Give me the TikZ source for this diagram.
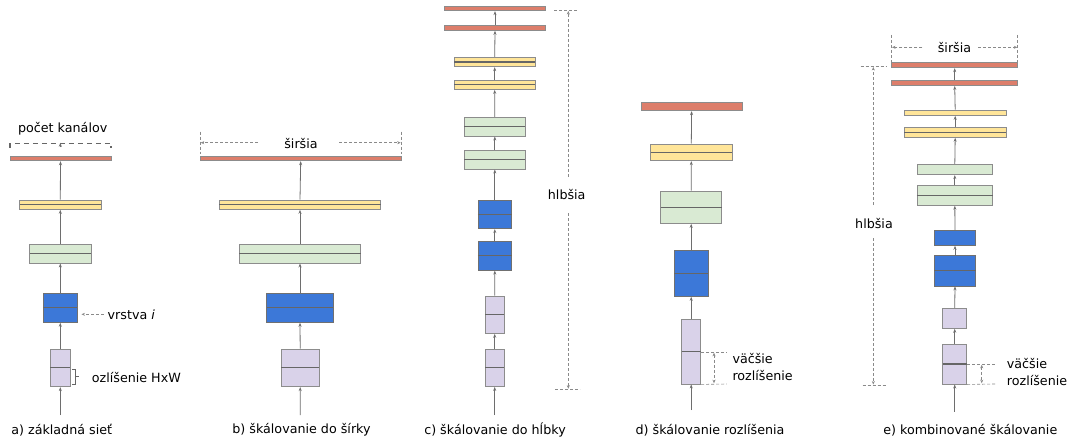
\documentclass[tikz,border=0pt]{standalone}
\usepackage{fontspec}
\setmainfont{DejaVu Sans}
\usetikzlibrary{arrows.meta}
\definecolor{redf}{HTML}{DD7E6B}
\definecolor{yelf}{HTML}{FFE599}
\definecolor{grnf}{HTML}{D9EAD3}
\definecolor{bluf}{HTML}{3C78D8}
\definecolor{purf}{HTML}{D9D2E9}
\definecolor{edgec}{HTML}{8C8C8C}
\definecolor{midc}{HTML}{666666}
\definecolor{connc}{HTML}{6E6E6E}
\definecolor{dimc}{HTML}{8A8A8A}
\tikzset{
  txt/.style={font=\fontsize{12.7}{17}\selectfont, inner sep=0pt, text=black},
  lay/.style={draw=edgec, line width=0.9pt, inner sep=0pt, rectangle},
  redl/.style={lay, fill=redf},
  yell/.style={lay, fill=yelf},
  grnl/.style={lay, fill=grnf},
  blul/.style={lay, fill=bluf, draw=edgec!80!black},
  purl/.style={lay, fill=purf},
  mid/.style={draw=midc, line width=1.1pt},
  conn/.style={draw=connc, line width=0.8pt, -{Stealth[length=4pt,width=3pt]}},
  dim/.style={draw=dimc, line width=0.6pt, dash pattern=on 3pt off 2pt},
  dimarr/.style={dim, -{Stealth[length=3.5pt,width=3pt]}},
  dimdbl/.style={dim, {Stealth[length=3.5pt,width=3pt]}-{Stealth[length=3.5pt,width=3pt]}},
}
\begin{document}
\begin{tikzpicture}[x=1pt,y=-1pt]
\useasboundingbox[fill=white] (0,0) rectangle (1070,441);

% ---------- panel a ----------
\node[redl, minimum width=101pt, minimum height=4.7pt] (ra) at (60.5,158.4) {};
\node[yell, minimum width=81.4pt, minimum height=9.3pt] (ya) at (60.3,204.7) {};
\node[grnl, minimum width=61.4pt, minimum height=19pt] (ga) at (60.3,253.5) {};
\node[blul, minimum width=33.7pt, minimum height=29pt] (ba) at (60.3,307.8) {};
\node[purl, minimum width=20pt, minimum height=37.7pt] (pa) at (60.3,367.8) {};
\coordinate (ina) at (60.3,415);
\draw[conn] (ina) -- (pa.south);
\draw[conn] (pa.north) -- (ba.south);
\draw[conn] (ba.north) -- (ga.south);
\draw[conn] (ga.north) -- (ya.south);
\draw[conn] (ya.north) -- (ra.south);
\draw[draw=midc, line width=1.2pt, dash pattern=on 5pt off 4pt] (10,147.5) -- (10,143.3) -- (111,143.3) -- (111,147.5);
\coordinate (bra0) at (60.3,147);
\coordinate (bra1) at (60.3,142.8);
\draw[conn] (bra0) -- (bra1);
\node[txt] (lkan) at (62.7,129) {počet kanálov};
\node[txt, anchor=west] (lvr) at (107.5,314.3) {vrstva \textit{i}};
\coordinate (vr0) at (103.5,314.3);
\coordinate (vr1) at (81.5,314.3);
\draw[dimarr] (vr0) -- (vr1);
\draw[draw=midc, line width=1pt] (72,369) -- (75,369) -- (75,384) -- (72,384) (75,376.5) -- (78.5,376.5);
\node[txt, anchor=west] (lozl) at (91.7,377.5) {ozlíšenie HxW};
\node[txt] (capa) at (61.7,430) {a) základná sieť};

% ---------- panel b ----------
\node[redl, minimum width=201.3pt, minimum height=4.7pt] (rb) at (300.7,158.4) {};
\node[yell, minimum width=161.4pt, minimum height=9.3pt] (yb) at (300,204.7) {};
\node[grnl, minimum width=121.4pt, minimum height=19pt] (gb) at (300,253.5) {};
\node[blul, minimum width=66.6pt, minimum height=29pt] (bb) at (300,307.8) {};
\node[purl, minimum width=38.3pt, minimum height=37.7pt] (pb) at (300.2,367.8) {};
\coordinate (inb) at (300.3,415);
\draw[conn] (inb) -- (pb.south);
\draw[conn] (pb.north) -- (bb.south);
\draw[conn] (bb.north) -- (gb.south);
\draw[conn] (gb.north) -- (yb.south);
\draw[conn] (yb.north) -- (rb.south);
\draw[dim] (200.5,131.7) -- (200.5,154);
\draw[dim] (401,131.7) -- (401,154);
\node[txt] (lsirb) at (301,143.3) {širšia};
\coordinate (wb0) at (258,142.7);
\coordinate (wb1) at (200.7,142.7);
\coordinate (wb2) at (339,142.7);
\coordinate (wb3) at (400.7,142.7);
\draw[dimarr] (wb0) -- (wb1);
\draw[dimarr] (wb2) -- (wb3);
\node[txt] (capb) at (301.5,430) {b) škálovanie do šírky};

% ---------- panel c ----------
\node[redl, minimum width=101.4pt, minimum height=4.7pt] (rc1) at (495,8.35) {};
\node[redl, minimum width=101.4pt, minimum height=4.7pt] (rc2) at (495,28) {};
\node[yell, minimum width=81.3pt, minimum height=9.4pt] (yc1) at (494.7,62) {};
\node[yell, minimum width=81.3pt, minimum height=9.4pt] (yc2) at (494.7,84.7) {};
\node[grnl, minimum width=61pt, minimum height=18.7pt] (gc1) at (494.8,126.7) {};
\node[grnl, minimum width=61pt, minimum height=18.7pt] (gc2) at (494.8,159.7) {};
\node[blul, minimum width=33.7pt, minimum height=28.7pt] (bc1) at (494.8,214.3) {};
\node[blul, minimum width=33.7pt, minimum height=28.7pt] (bc2) at (494.8,255.8) {};
\node[purl, minimum width=19.3pt, minimum height=37.3pt] (pc1) at (494.7,314.7) {};
\node[purl, minimum width=19.3pt, minimum height=37.3pt] (pc2) at (494.7,367.8) {};
\coordinate (inc) at (494.7,415);
\draw[conn] (inc) -- (pc2.south);
\draw[conn] (pc2.north) -- (pc1.south);
\draw[conn] (pc1.north) -- (bc2.south);
\draw[conn] (bc2.north) -- (bc1.south);
\draw[conn] (bc1.north) -- (gc2.south);
\draw[conn] (gc2.north) -- (gc1.south);
\draw[conn] (gc1.north) -- (yc2.south);
\draw[conn] (yc2.north) -- (yc1.south);
\draw[conn] (yc1.north) -- (rc2.south);
\draw[conn] (rc2.north) -- (rc1.south);
\draw[dim] (554.3,10.7) -- (578.3,10.7);
\draw[dim] (555,389) -- (580,389);
\node[txt] (lhlc) at (566.7,195) {hlbšia};
\coordinate (dc0) at (568.3,176.7);
\coordinate (dc1) at (568.3,11);
\coordinate (dc2) at (568.3,213.3);
\coordinate (dc3) at (568.3,388.7);
\draw[dimarr] (dc0) -- (dc1);
\draw[dimarr] (dc2) -- (dc3);
\node[txt] (capc) at (495,430) {c) škálovanie do hĺbky};

% ---------- panel d ----------
\node[redl, minimum width=101.3pt, minimum height=8pt] (rd) at (691.6,106.7) {};
\node[yell, minimum width=81.3pt, minimum height=16.7pt] (yd) at (691.3,152.3) {};
\node[grnl, minimum width=61pt, minimum height=32.3pt] (gd) at (691.2,207.2) {};
\node[blul, minimum width=33.7pt, minimum height=46pt] (bd) at (691.2,273.3) {};
\node[purl, minimum width=19pt, minimum height=64.3pt] (pd) at (691.2,351.8) {};
\coordinate (ind) at (691.2,410);
\draw[conn] (ind) -- (pd.south);
\draw[conn] (pd.north) -- (bd.south);
\draw[conn] (bd.north) -- (gd.south);
\draw[conn] (gd.north) -- (yd.south);
\draw[conn] (yd.north) -- (rd.south);
\coordinate (rsd0) at (726.7,352);
\coordinate (rsd1) at (726.7,384);
\draw[dim] (pd.east |- rsd0) -- (rsd0);
\draw[dim] (pd.south east) -- (rsd1);
\coordinate (rsd2) at (714,352.8);
\coordinate (rsd3) at (714,383.2);
\draw[dimdbl] (rsd2) -- (rsd3);
\node[txt, anchor=west, align=left] (lvd) at (732.3,367) {väčšie\\rozlíšenie};
\node[txt] (capd) at (710,430) {d) škálovanie rozlíšenia};

% ---------- panel e ----------
\node[redl, minimum width=126pt, minimum height=5pt] (re1) at (954.7,65.2) {};
\node[redl, minimum width=126pt, minimum height=5pt] (re2) at (954.7,83) {};
\node[yell, minimum width=101.7pt, minimum height=5.3pt] (ye1) at (955.2,112.7) {};
\node[yell, minimum width=101.7pt, minimum height=10pt] (ye2) at (955.2,132.3) {};
\node[grnl, minimum width=75.7pt, minimum height=10.4pt] (ge1) at (954.8,169.5) {};
\node[grnl, minimum width=75.7pt, minimum height=19.6pt] (ge2) at (954.8,195.5) {};
\node[blul, minimum width=41.4pt, minimum height=14.6pt] (be1) at (955,238) {};
\node[blul, minimum width=41.4pt, minimum height=30.3pt] (be2) at (955,270.8) {};
\node[purl, minimum width=24pt, minimum height=20pt] (pe1) at (954.7,318.3) {};
\node[purl, minimum width=24pt, minimum height=40pt] (pe2) at (954.7,364) {};
\coordinate (ine) at (954.7,411.7);
\draw[conn] (ine) -- (pe2.south);
\draw[conn] (pe2.north) -- (pe1.south);
\draw[conn] (pe1.north) -- (be2.south);
\draw[conn] (be2.north) -- (be1.south);
\draw[conn] (be1.north) -- (ge2.south);
\draw[conn] (ge2.north) -- (ge1.south);
\draw[conn] (ge1.north) -- (ye2.south);
\draw[conn] (ye2.north) -- (ye1.south);
\draw[conn] (ye1.north) -- (re2.south);
\draw[conn] (re2.north) -- (re1.south);
% width
\draw[dim] (891.7,35) -- (891.7,62);
\draw[dim] (1017.5,35) -- (1017.5,62);
\node[txt] (lsire) at (954.5,47.3) {širšia};
\coordinate (we0) at (922.3,47.3);
\coordinate (we1) at (892,47.3);
\coordinate (we2) at (978.3,47.3);
\coordinate (we3) at (1017.3,47.3);
\draw[dimarr] (we0) -- (we1);
\draw[dimarr] (we2) -- (we3);
% depth
\draw[dim] (860.7,66.7) -- (886.7,66.7);
\draw[dim] (862.7,385) -- (886.7,385);
\node[txt] (lhle) at (874,223.3) {hlbšia};
\coordinate (de0) at (873.3,205);
\coordinate (de1) at (873.3,67);
\coordinate (de2) at (873.3,238.3);
\coordinate (de3) at (873.3,384.5);
\draw[dimarr] (de0) -- (de1);
\draw[dimarr] (de2) -- (de3);
% resolution
\coordinate (rse0) at (995,364);
\coordinate (rse1) at (995,384);
\draw[dim] (pe2.east) -- (rse0);
\draw[dim] (pe2.south east) -- (rse1);
\coordinate (rse2) at (981.7,364.8);
\coordinate (rse3) at (981.7,383.2);
\draw[dimdbl] (rse2) -- (rse3);
\node[txt, anchor=west, align=left] (lve) at (1006.7,372) {väčšie\\rozlíšenie};
\node[txt] (cape) at (970.3,430) {e) kombinované škálovanie};

% ---------- mid lines ----------
\foreach \n in {ya,ga,ba,pa,yb,gb,bb,pb,yc1,yc2,gc1,gc2,bc1,bc2,pc1,pc2,yd,gd,bd,pd,ye2,ge2,be2,pe2}
  \draw[mid] ([xshift=0.45pt]\n.west) -- ([xshift=-0.45pt]\n.east);
\end{tikzpicture}
\end{document}
